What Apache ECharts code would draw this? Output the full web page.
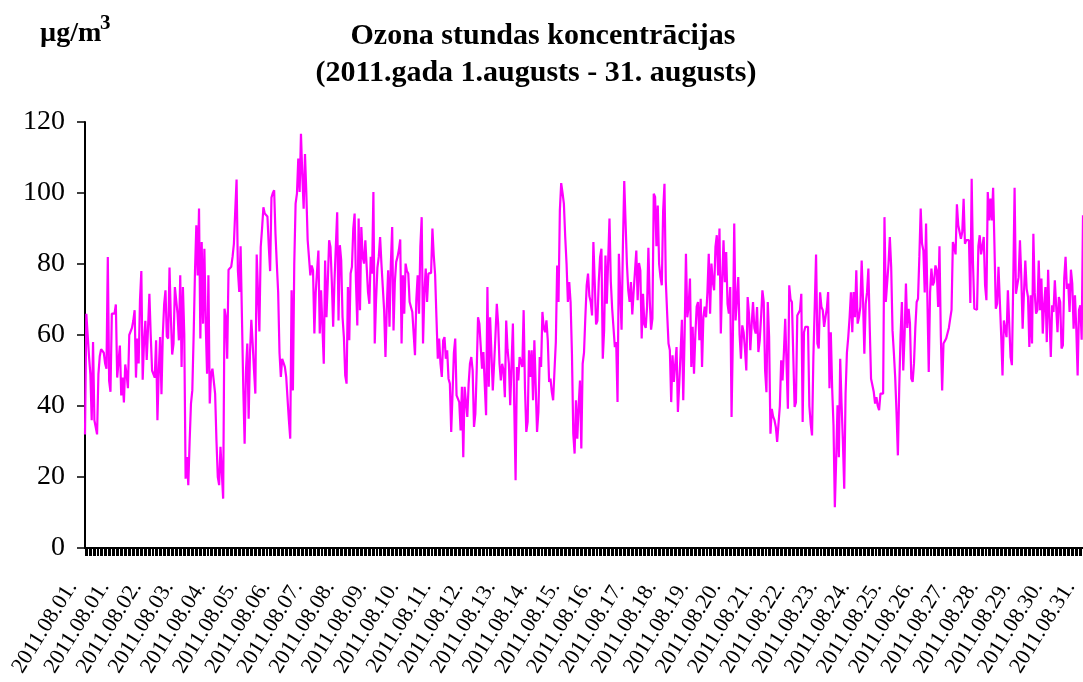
<!DOCTYPE html>
<html>
<head>
<meta charset="utf-8">
<script src="https://cdn.jsdelivr.net/npm/echarts/dist/echarts.min.js"></script>
<style>
  html, body { margin: 0; padding: 0; background: #fff; }
  #ozoneChart { width: 1083px; height: 682px; }
</style>
</head>
<body>
<div id="ozoneChart"></div>
<script>
// tick labels under the x axis (one every 24 hours)
var dayLabels = ['2011.08.01.', '2011.08.01.', '2011.08.02.', '2011.08.03.', '2011.08.04.', '2011.08.05.',
  '2011.08.06.', '2011.08.07.', '2011.08.08.', '2011.08.09.', '2011.08.10.', '2011.08.11.', '2011.08.12.',
  '2011.08.13.', '2011.08.14.', '2011.08.15.', '2011.08.16.', '2011.08.17.', '2011.08.18.', '2011.08.19.',
  '2011.08.20.', '2011.08.21.', '2011.08.22.', '2011.08.23.', '2011.08.24.', '2011.08.25.', '2011.08.26.',
  '2011.08.27.', '2011.08.28.', '2011.08.29.', '2011.08.30.', '2011.08.31.']
var yTicks = [0, 20, 40, 60, 80, 100, 120]

// hourly ozone, µg/m3
var week1 = [
  32, 66, 60, 54, 49, 36, 58, 36, 34, 32,
  49, 54, 56, 56, 55, 52, 50.5, 82, 47, 44,
  66, 66, 66, 68.6, 48, 47.7, 57, 43, 48, 41,
  51.7, 49, 45, 60, 60, 62, 64, 67, 48, 59,
  52, 70, 78, 47.4, 58, 64, 53, 62, 71.6, 60,
  50, 50, 48, 58.5, 36, 50, 59.4, 43.3, 60, 68.6,
  72.6, 59.6, 59, 79, 65, 54.5, 57.6, 73.5, 73.7, 66,
  58.5, 76.8, 51, 73.5, 60.4, 19.5, 25.6, 17.7, 30, 40.7,
  44.4, 60, 78, 90.9, 76.8, 95.6, 59, 86.2, 63.2, 84.3,
  63.2, 49.1, 76.8, 40.7, 49.1, 50.5, 47, 43.5, 30.3, 20,
  17.7, 28.5, 28.5, 13.9, 67.4, 65, 53.3, 78.4, 78.4, 79.2,
  82, 85.7, 95, 103.8, 78, 72.1, 85, 65, 45, 29.4,
  50, 57.6, 36.4, 55, 64.3, 57.6, 50, 43.5, 82.7, 82.7,
  61, 84.8, 90, 96, 94.2, 94.2, 93.4, 85, 78, 98.7,
  100, 100.8, 88.5, 80, 72, 55, 48.2, 53.3, 53.3, 51,
  48.2, 42, 36, 30.8, 72.6, 44.4, 80, 97, 99.8, 109.7,
  100.3, 116.7, 105, 95.6, 111, 100, 86.7, 87.1
]
var week2 = [
  76.8, 79.6,
  78.2, 60.4, 72, 78, 83.8, 60.4, 72.6, 72.6, 51.9, 81,
  65, 75, 86.7, 84.8, 75, 62.3, 75.4, 75.9, 94.6, 64.1,
  85.3, 81, 65, 59.4, 48.6, 46.3, 73.5, 58.5, 77.3, 79.2,
  90, 94.2, 75, 62.7, 92.8, 67, 90.4, 82, 80.1, 86.7,
  79.2, 72, 68.8, 82, 77.3, 100.3, 57.6, 70, 79, 82,
  87.6, 80, 73.5, 67, 53.8, 68, 78.2, 62.3, 80, 90.4,
  61.3, 75, 80.6, 82, 84, 86.9, 57.6, 76.8, 66, 80.1,
  78, 77.3, 69.3, 68.8, 66.5, 66, 54.3, 70, 76.8, 66,
  85, 93.2, 57.6, 72, 78.7, 69.3, 77.3, 77.5, 77.5, 90,
  82.4, 77, 65, 53.3, 59, 52, 48.2, 58.5, 59.4, 53.3,
  55.7, 47.7, 46.3, 32.7, 43.5, 55, 59, 43, 43, 41.1,
  33.1, 45.4, 25.6, 45.4, 45, 36.9, 46.3, 52, 53.8, 50,
  34.1, 37.8, 50, 65, 63.2, 63.2, 50.5, 55.2, 46, 37.4,
  73.5, 45.4, 65, 55, 44.4, 51.9, 60, 68.8, 63.2, 52,
  47.2, 51.9, 50, 42.5, 64.1, 56, 51.9, 40.2, 52, 63.2,
  40, 19.1, 51, 47.2, 53.8, 52.4, 51, 67, 45, 32.7,
  35.5, 55.7, 48.2, 55.7, 41.6, 58.5
]
var week3 = [
  58.5, 32.7, 38.3, 53.8,
  51, 66.5, 62, 60.8, 64.1, 58.5, 46.8, 47.7, 44, 41.6,
  50, 58, 79.6, 69.3, 95.1, 102.8, 100, 97, 87.6, 80,
  69.3, 74.9, 69.3, 55, 32.2, 26.6, 41.6, 30.8, 40, 47.2,
  28, 51.9, 55, 65, 74, 77.3, 71, 69.3, 65.5, 86.2,
  75, 63, 64, 75, 82, 84.3, 53.3, 61.3, 82.4, 68.8,
  68.8, 92.8, 75, 67.4, 67, 56.6, 58, 41.1, 82.9, 82.4,
  61.5, 85, 103.4, 103.4, 80, 72.6, 69.3, 74.9, 65.8, 72.1,
  78, 83.8, 69.8, 80.3, 78.2, 59, 71.6, 63, 62, 67.9,
  84.6, 70, 61.5, 64.6, 99.8, 98.9, 85, 96.5, 80, 76.3,
  74, 95, 102.6, 75, 66, 57.6, 55.7, 41.1, 54.3, 46.8,
  46.3, 56.6, 38.3, 46.3, 55, 64.3, 41.6, 60, 82.9, 65,
  68, 75.9, 51, 62.3, 49.1, 60, 68, 69.3, 58.5, 70.2,
  51, 65, 68, 65, 72, 82.9, 66, 80.1, 75, 72.6,
  84.8, 88.1, 76.8, 90, 60.4, 75, 86.7, 74.9, 83.4, 68.8,
  66, 73.5, 36.9, 60, 91.4, 64.1, 70, 76.3, 60, 53.3,
  62.7, 60.8, 56, 50, 70.7, 66, 55.7, 63, 69.3, 62,
  60.4, 67.9, 55.2, 58.5
]
var week4 = [
  65, 72.6, 69.3, 50, 43.9, 69.3,
  59.4, 32.2, 39.2, 37, 36, 34.1, 29.9, 29.9, 40, 52.9,
  47.2, 55, 64.6, 65, 39.2, 74, 70, 69.3, 69.8, 39.7,
  41, 65.5, 65.5, 67, 71.6, 35.5, 60.8, 62.3, 62.3, 62.3,
  40, 35, 31.7, 53.8, 68, 82.7, 57.6, 56.2, 72, 67.9,
  67, 62.3, 65, 67.4, 72.1, 45, 60.8, 45, 34.6, 11.5,
  25, 40.2, 25.6, 53.3, 40.7, 30, 16.7, 43.5, 55, 59.4,
  65, 72, 60.8, 72.1, 65, 78.2, 63.2, 65, 67.9, 81,
  70, 54.7, 68.8, 72, 78.7, 62.3, 47.7, 47.4, 44, 40.7,
  42.5, 40, 38.8, 43.5, 43.5, 43.5, 93.2, 69.3, 69.3, 80,
  87.6, 79.2, 61.3, 55, 48, 38, 26.1, 45, 60, 69.3,
  50, 60, 74.5, 62, 67.4, 63.2, 47.7, 46.8, 52, 62,
  69.3, 70.2, 82, 95.6, 85.7, 83.8, 72, 91.4, 70, 49.6,
  72, 78.7, 74, 75, 79.6, 78.2, 67.9, 85, 60, 44.4,
  57.6, 57.6, 59, 59.4, 62, 64.6, 67.1, 86.2, 84.8, 82.7,
  96.8, 90.9, 90.4, 87.1, 89, 98.4, 85.7, 86.7, 86.7, 86.7,
  69, 104, 80, 67.4, 67.1, 67.1, 85, 88.1, 82.7, 85,
  87.6, 74
]
var lastDays = [
  69.8, 100.3, 92.3, 98.4, 92.3, 101.5, 85, 67.4,
  68.8, 79.2, 79.2, 60, 48.6, 64.1, 63.7, 59.4, 72.6, 72.6,
  53.8, 51.5, 75, 101.5, 71.6, 74, 76.3, 86.7, 76.3, 61.8,
  72, 81, 73, 70.7, 56.6, 71.2, 57.6, 88.5, 72, 66,
  67, 81, 67, 75.9, 60.4, 68.4, 73.5, 58, 78.4, 65,
  53.8, 68.4, 66.5, 75.4, 75.6, 60.8, 70.7, 69.3, 56.2, 57.1,
  75.9, 82, 73, 74.5, 66.5, 78.4, 74.5, 61.8, 71.2, 61.8,
  48.6, 67, 68.4, 58.7, 93.7
]

var ozone = week1.concat(week2, week3, week4, lastDays)
// one category per hour, named after its day label
var hours = ozone.map(function (v, i) {
  return dayLabels[Math.floor(i / 24)]
})

var serif = '"Liberation Serif", "Times New Roman", serif'
var chartEl = document.getElementById('ozoneChart')
var chart = echarts.init(chartEl)

var option = {
  animation: false,
  backgroundColor: '#fff',
  graphic: [
    {
      type: 'text', x: 543, y: 21,
      style: { text: 'Ozona stundas koncentrācijas', font: 'bold 30px ' + serif, fill: '#000', textAlign: 'center' }
    },
    {
      type: 'text', x: 536, y: 58,
      style: { text: '(2011.gada 1.augusts - 31. augusts)', font: 'bold 30px ' + serif, fill: '#000', textAlign: 'center' }
    },
    {
      type: 'text', x: 40, y: 20,
      style: { text: 'µg/m', font: 'bold 28px ' + serif, fill: '#000' }
    },
    {
      type: 'text', x: 100, y: 13,
      style: { text: '3', font: 'bold 21px ' + serif, fill: '#000' }
    }
  ],
  // fixed plot box; labels may run to the bottom edge like the original
  grid: { left: 85, right: 0, top: 122, bottom: 134, containLabel: false, outerBoundsMode: 'none' },
  xAxis: {
    type: 'category',
    data: hours,
    boundaryGap: false,
    axisLine: { lineStyle: { color: '#000', width: 2 } },
    axisTick: { interval: 0, length: 8, lineStyle: { color: '#000', width: 1 } },
    axisLabel: {
      interval: 23,
      rotate: 58,
      margin: 15,
      padding: [0, 24, 0, 0],
      color: '#000',
      fontFamily: serif,
      fontSize: 22
    },
    splitLine: { show: false }
  },
  yAxis: {
    type: 'value',
    min: yTicks[0],
    max: yTicks[yTicks.length - 1],
    interval: 20,
    axisLine: { show: true, lineStyle: { color: '#000', width: 2 } },
    axisTick: { show: true, length: 8, lineStyle: { color: '#000', width: 1.5 } },
    axisLabel: { color: '#000', fontFamily: serif, fontSize: 28, margin: 20 },
    splitLine: { show: false }
  },
  series: [
    {
      name: 'O3',
      type: 'line',
      data: ozone,
      symbol: 'none',
      lineStyle: { color: '#ff00ff', width: 2.2 }
    }
  ]
}
chart.setOption(option, true)
</script>
</body>
</html>
